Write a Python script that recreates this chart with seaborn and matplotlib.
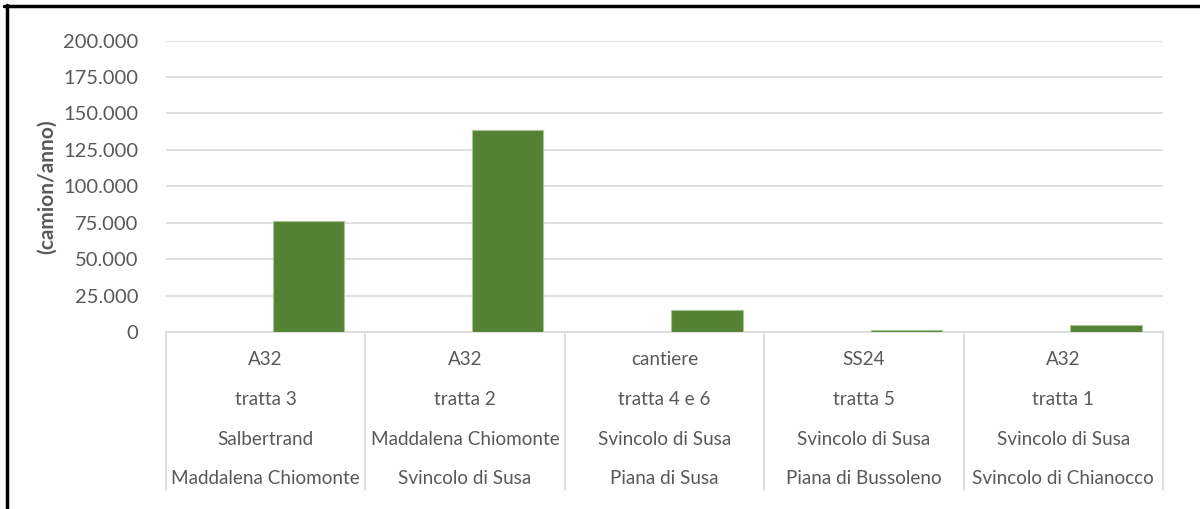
import matplotlib
matplotlib.use('Agg')
import matplotlib.pyplot as plt
import matplotlib.transforms as mtransforms
from matplotlib.lines import Line2D
from matplotlib.ticker import FuncFormatter
import pandas as pd
import seaborn as sns

# data
strade = ['A32', 'A32', 'cantiere', 'SS24', 'A32']
tratte = ['tratta 3', 'tratta 2', 'tratta 4 e 6', 'tratta 5', 'tratta 1']
da = ['Salbertrand', 'Maddalena Chiomonte', 'Svincolo di Susa',
      'Svincolo di Susa', 'Svincolo di Susa']
a = ['Maddalena Chiomonte', 'Svincolo di Susa', 'Piana di Susa',
     'Piana di Bussoleno', 'Svincolo di Chianocco']
camion = [76000, 138800, 15100, 1400, 4800]
vuota = [0, 0, 0, 0, 0]
yticks = [0, 25000, 50000, 75000, 100000, 125000, 150000, 175000, 200000]

GREEN = '#548235'
GREY_TXT = '#595959'
GRID = '#d9d9d9'
FONT = 'Lato'

df = pd.concat([
    pd.DataFrame({'tratta': tratte, 'serie': 'vuota', 'valore': vuota}),
    pd.DataFrame({'tratta': tratte, 'serie': 'camion/anno', 'valore': camion}),
])

sns.set_style('white')
plt.rcParams['font.family'] = [FONT, 'DejaVu Sans']

fig = plt.figure(figsize=(12, 5.09), dpi=100)
ax = fig.add_axes([0.1383, 0.3477, 0.9692 - 0.1383, 0.9204 - 0.3477])

# an empty first series keeps the bar in the right half of each category
sns.barplot(data=df, x='tratta', y='valore', hue='serie',
            hue_order=['vuota', 'camion/anno'], order=tratte,
            palette={'vuota': GREEN, 'camion/anno': GREEN}, saturation=1,
            width=0.854, gap=0.164, edgecolor='#a8c394', linewidth=0.8,
            legend=False, ax=ax, zorder=3)
for p in ax.containers[0]:
    p.set_visible(False)

ax.set_xlim(-0.5, len(tratte) - 0.5)
ax.set_ylim(0, 200000)
ax.set_yticks(yticks)
ax.yaxis.set_major_formatter(FuncFormatter(lambda v, p: f'{int(v):,}'.replace(',', '.')))
ax.tick_params(axis='y', length=0, pad=20, labelsize=14.5, labelcolor=GREY_TXT)
ax.set_xticks([])
ax.set_xlabel('')
ax.set_ylabel('(camion/anno)', fontsize=15, fontweight='bold', color=GREY_TXT, labelpad=4)

ax.grid(axis='y', color=GRID, linewidth=1.2, zorder=0)
for s in ['top', 'right', 'left']:
    ax.spines[s].set_visible(False)
ax.spines['bottom'].set_color(GRID)
ax.spines['bottom'].set_linewidth(1.2)

# category table below the axis
trans = mtransforms.blended_transform_factory(ax.transData, ax.transAxes)
for b in range(len(tratte) + 1):
    ax.add_line(Line2D([b - 0.5, b - 0.5], [0, -0.542], transform=trans,
                       color=GRID, linewidth=1.2, clip_on=False))
rows = [strade, tratte, da, a]
row_y = [-0.093, -0.233, -0.367, -0.504]
for labels, y in zip(rows, row_y):
    for i, lab in enumerate(labels):
        ax.text(i, y, lab, transform=trans, ha='center', va='center',
                fontsize=13.6, color=GREY_TXT)

# cropped frame of the original screenshot
fig.add_artist(Line2D([0.003, 1.0], [1 - 6 / 509, 1 - 6 / 509],
                      transform=fig.transFigure, color='black', linewidth=2.5))
fig.add_artist(Line2D([6.5 / 1200, 6.5 / 1200], [0, 1 - 5 / 509],
                      transform=fig.transFigure, color='black', linewidth=2.5))

fig.savefig('out.png', dpi=100)
